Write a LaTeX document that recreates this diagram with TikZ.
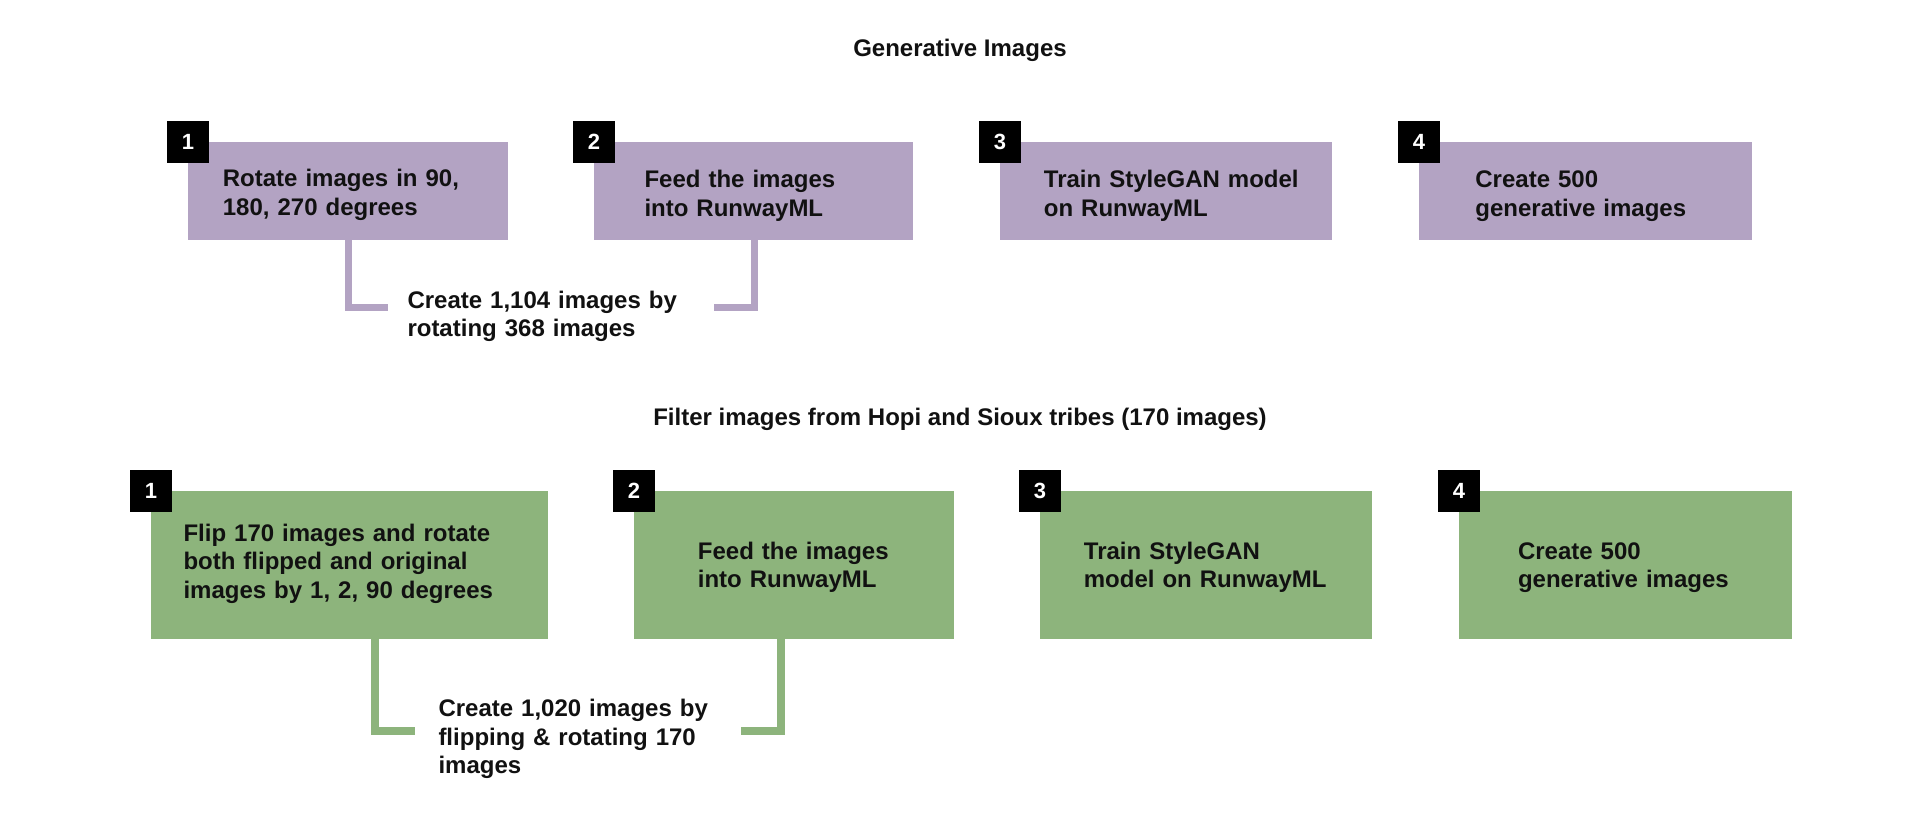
\documentclass[tikz,border=0pt]{standalone}
\usepackage{fontspec}
\setmainfont{Liberation Sans}
\usetikzlibrary{calc}
\definecolor{lav}{HTML}{B3A3C3}
\definecolor{sage}{HTML}{8DB47C}
\definecolor{ink}{HTML}{111111}
\tikzset{
  pbox/.style={fill=lav, anchor=north west, inner sep=0pt, minimum height=98pt},
  gbox/.style={fill=sage, anchor=north west, inner sep=0pt, minimum height=148pt},
  badge/.style={fill=black, text=white, minimum size=42pt, inner sep=0pt,
    font=\fontsize{22}{22}\selectfont\bfseries},
  txt/.style={anchor=base west, inner sep=0pt, text width=420pt, align=left, text=ink,
    font=\fontsize{24}{28.6}\selectfont\bfseries},
  ttl/.style={anchor=base, inner sep=0pt, text=ink, font=\fontsize{24}{28.6}\selectfont\bfseries},
  conP/.style={draw=lav, line width=7pt, line join=miter},
  conG/.style={draw=sage, line width=8pt, line join=miter},
}
\begin{document}
\begin{tikzpicture}[x=1pt, y=-1pt]
\fill[white] (0,0) rectangle (1920,830);
\useasboundingbox (0,0) rectangle (1920,830);

% titles
\node[ttl] (t1) at (960,56.7) {Generative Images};
\node[ttl] (t2) at (960,425) {Filter images from Hopi and Sioux tribes (170 images)};

% top row boxes
\node[pbox, minimum width=320pt] (b1) at (188,142) {};
\node[pbox, minimum width=319pt] (b2) at (594,142) {};
\node[pbox, minimum width=332pt] (b3) at (1000,142) {};
\node[pbox, minimum width=333pt] (b4) at (1419,142) {};

% bottom row boxes
\node[gbox, minimum width=397pt] (g1) at (151,491) {};
\node[gbox, minimum width=320pt] (g2) at (634,491) {};
\node[gbox, minimum width=332pt] (g3) at (1040,491) {};
\node[gbox, minimum width=333pt] (g4) at (1459,491) {};

% badges
\node[badge] (nb1) at (b1.north west) {1};
\node[badge] (nb2) at (b2.north west) {2};
\node[badge] (nb3) at (b3.north west) {3};
\node[badge] (nb4) at (b4.north west) {4};
\node[badge] (ng1) at (g1.north west) {1};
\node[badge] (ng2) at (g2.north west) {2};
\node[badge] (ng3) at (g3.north west) {3};
\node[badge] (ng4) at (g4.north west) {4};

% texts top
\node[txt] (b1t) at (222.7,186.7) {Rotate images in 90,\\180, 270 degrees};
\node[txt] (b2t) at (644.3,187.5) {Feed the images\\into RunwayML};
\node[txt] (b3t) at (1043.7,187.5) {Train StyleGAN model\\on RunwayML};
\node[txt] (b4t) at (1475.2,187.5) {Create 500\\generative images};

% texts bottom
\node[txt] (g1t) at (183.3,541) {Flip 170 images and rotate\\both flipped and original\\images by 1, 2, 90 degrees};
\node[txt] (g2t) at (697.7,559) {Feed the images\\into RunwayML};
\node[txt] (g3t) at (1083.7,559) {Train StyleGAN\\model on RunwayML};
\node[txt] (g4t) at (1517.8,559) {Create 500\\generative images};

% captions
\node[txt] (c1) at (407.3,308.3) {Create 1,104 images by\\rotating 368 images};
\node[txt] (c2) at (438.3,716.7) {Create 1,020 images by\\flipping \& rotating 170\\images};

% connectors
\coordinate (p1e) at (388,307);
\coordinate (p2e) at (714,307);
\coordinate (g1e) at (415,731);
\coordinate (g2e) at (741,731);
\draw[conP] (b1.south) |- (p1e);
\draw[conP] ($(b2.south west)+(160,0)$) |- (p2e);
\draw[conG] ($(g1.south west)+(224,0)$) |- (g1e);
\draw[conG] ($(g2.south west)+(147,0)$) |- (g2e);
\end{tikzpicture}
\end{document}
